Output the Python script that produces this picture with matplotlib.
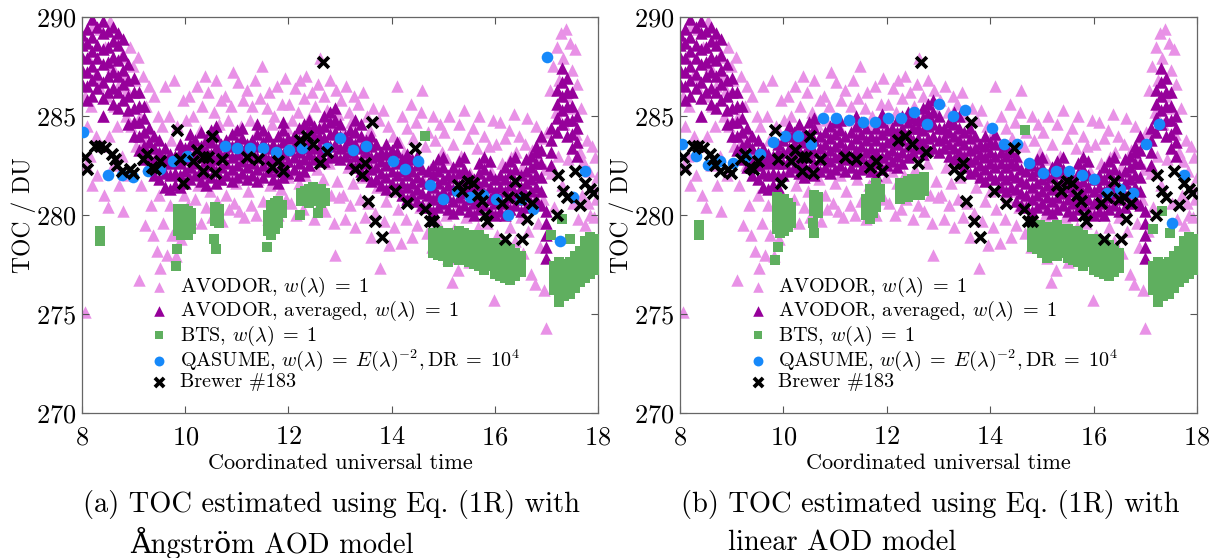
import matplotlib.pyplot as plt
import numpy as np

plt.rcParams['font.family'] = ['cmr10', 'DejaVu Serif']
plt.rcParams['mathtext.fontset'] = 'cm'
plt.rcParams['axes.formatter.use_mathtext'] = True

# ---------------- data ----------------
# AVODOR, w=1 (light pink triangles), same cloud in both panels
pink = [
    (8.02, 289.0), (8.05, 286.0), (8.05, 275.1), (8.08, 282.5), (8.10, 284.5), (8.12, 288.0), (8.15, 283.0), (8.18, 285.5),
    (8.20, 281.5), (8.22, 289.6), (8.25, 287.0), (8.28, 284.0), (8.30, 282.0), (8.33, 286.5), (8.35, 289.4), (8.38, 283.5),
    (8.40, 285.0), (8.43, 281.0), (8.45, 288.5), (8.48, 286.0), (8.50, 280.4), (8.52, 284.0), (8.55, 289.8), (8.58, 287.5),
    (8.60, 282.5), (8.62, 285.5), (8.65, 289.0), (8.68, 284.5), (8.70, 286.5), (8.72, 281.5), (8.75, 288.0), (8.78, 283.0),
    (8.80, 280.2), (8.82, 287.0), (8.85, 285.0), (8.88, 286.3), (8.90, 282.0), (8.93, 288.5), (8.95, 284.5), (8.98, 287.5),
    (9.02, 286.8), (9.05, 283.5), (9.08, 288.0), (9.10, 276.7), (9.12, 285.0), (9.15, 281.5), (9.18, 287.0), (9.20, 283.8),
    (9.22, 279.5), (9.25, 285.5), (9.28, 282.5), (9.30, 286.5), (9.33, 280.5), (9.35, 284.0), (9.38, 279.0), (9.40, 286.0),
    (9.42, 283.0), (9.45, 278.2), (9.48, 285.0), (9.50, 281.0), (9.52, 277.3), (9.55, 284.5), (9.58, 279.6), (9.60, 286.5),
    (9.62, 282.5), (9.65, 278.0), (9.68, 285.0), (9.70, 280.5), (9.72, 283.8), (9.75, 279.0), (9.78, 286.8), (9.80, 281.5),
    (9.82, 277.9), (9.85, 284.5), (9.88, 280.0), (9.90, 283.0), (9.92, 278.8), (9.95, 285.8), (9.97, 281.0), (9.99, 279.5),
    (10.02, 284.8), (10.05, 280.5), (10.08, 286.0), (10.10, 282.3), (10.12, 279.8), (10.15, 285.0), (10.18, 283.5), (10.20, 280.8),
    (10.22, 286.5), (10.25, 281.5), (10.28, 284.3), (10.30, 279.6), (10.33, 285.5), (10.35, 282.0), (10.38, 287.0), (10.40, 280.4),
    (10.42, 284.0), (10.45, 286.2), (10.48, 281.2), (10.50, 283.8), (10.52, 279.9), (10.55, 285.2), (10.58, 282.5), (10.60, 286.8),
    (10.62, 280.7), (10.65, 284.6), (10.68, 281.8), (10.70, 285.8), (10.72, 279.7), (10.75, 283.5), (10.78, 286.0), (10.80, 281.0),
    (10.83, 284.8), (10.85, 280.3), (10.88, 285.5), (10.90, 282.2), (10.92, 287.2), (10.95, 280.6), (10.97, 284.2), (10.99, 281.6),
    (11.02, 286.7), (11.05, 280.2), (11.08, 284.5), (11.10, 282.0), (11.12, 285.8), (11.15, 279.9), (11.18, 283.5), (11.20, 286.3),
    (11.22, 281.2), (11.25, 284.8), (11.28, 280.5), (11.30, 285.5), (11.33, 282.8), (11.35, 286.8), (11.38, 280.0), (11.40, 284.2),
    (11.42, 281.8), (11.45, 285.9), (11.48, 287.5), (11.50, 280.7), (11.52, 284.0), (11.55, 282.4), (11.58, 285.4), (11.60, 279.8),
    (11.62, 286.2), (11.65, 281.5), (11.68, 284.6), (11.70, 280.4), (11.72, 285.0), (11.75, 282.8), (11.78, 286.5), (11.80, 280.0),
    (11.82, 284.1), (11.85, 281.3), (11.88, 285.6), (11.90, 282.6), (11.93, 286.9), (11.95, 280.8), (11.97, 284.4), (11.99, 281.9),
    (12.02, 285.6), (12.05, 280.6), (12.08, 284.8), (12.10, 282.2), (12.12, 286.4), (12.15, 280.0), (12.18, 285.2), (12.20, 281.6),
    (12.22, 286.8), (12.25, 283.6), (12.28, 280.3), (12.30, 285.9), (12.33, 282.0), (12.35, 287.0), (12.38, 280.8), (12.40, 284.9),
    (12.42, 281.4), (12.45, 286.2), (12.48, 283.0), (12.50, 279.8), (12.52, 285.5), (12.55, 282.3), (12.58, 286.6), (12.60, 280.5),
    (12.62, 287.9), (12.65, 284.5), (12.68, 281.8), (12.70, 286.0), (12.72, 280.2), (12.75, 285.3), (12.78, 282.6), (12.80, 286.8),
    (12.83, 281.0), (12.85, 284.6), (12.88, 279.6), (12.90, 278.0), (12.92, 286.3), (12.95, 281.7), (12.97, 285.1), (12.99, 280.9),
    (13.02, 285.8), (13.05, 281.0), (13.08, 284.2), (13.10, 279.8), (13.12, 286.5), (13.15, 282.4), (13.18, 285.2), (13.20, 280.5),
    (13.22, 284.7), (13.25, 281.6), (13.28, 286.0), (13.30, 279.4), (13.33, 283.8), (13.35, 285.6), (13.38, 280.8), (13.40, 284.0),
    (13.42, 281.9), (13.45, 286.2), (13.48, 279.9), (13.50, 283.3), (13.52, 285.0), (13.55, 280.6), (13.58, 284.3), (13.60, 278.9),
    (13.62, 282.7), (13.65, 285.4), (13.68, 280.1), (13.70, 283.6), (13.72, 281.4), (13.75, 284.8), (13.78, 277.3), (13.80, 282.0),
    (13.83, 285.3), (13.85, 279.7), (13.88, 283.1), (13.90, 280.7), (13.93, 284.5), (13.95, 278.5), (13.97, 282.6), (13.99, 281.2),
    (14.02, 284.0), (14.05, 279.4), (14.08, 282.8), (14.10, 286.5), (14.12, 280.3), (14.15, 283.7), (14.18, 278.6), (14.20, 285.0),
    (14.22, 281.5), (14.25, 283.2), (14.28, 279.8), (14.30, 284.4), (14.32, 280.9), (14.35, 282.4), (14.38, 285.6), (14.40, 278.9),
    (14.42, 283.9), (14.45, 281.2), (14.48, 284.7), (14.50, 279.5), (14.52, 282.9), (14.55, 280.4), (14.58, 285.2), (14.60, 286.3),
    (14.62, 281.7), (14.65, 283.5), (14.68, 279.1), (14.70, 284.2), (14.72, 280.8), (14.75, 282.3), (14.78, 278.4), (14.80, 285.0),
    (14.83, 281.3), (14.85, 283.8), (14.88, 279.7), (14.90, 282.6), (14.93, 284.6), (14.95, 280.5), (14.97, 283.2), (14.99, 278.8),
    (15.02, 284.2), (15.05, 280.0), (15.08, 282.8), (15.10, 277.8), (15.12, 285.0), (15.15, 281.4), (15.18, 276.6), (15.20, 283.6),
    (15.22, 279.3), (15.25, 282.3), (15.28, 277.2), (15.30, 284.6), (15.32, 280.6), (15.35, 283.0), (15.38, 278.6), (15.40, 285.3),
    (15.42, 281.9), (15.45, 279.9), (15.48, 283.9), (15.50, 277.6), (15.52, 282.1), (15.55, 280.3), (15.58, 284.4), (15.60, 278.9),
    (15.62, 281.6), (15.65, 283.4), (15.68, 279.4), (15.70, 285.0), (15.72, 280.9), (15.75, 282.7), (15.78, 278.2), (15.80, 284.0),
    (15.83, 281.2), (15.85, 279.6), (15.88, 283.5), (15.90, 277.9), (15.93, 282.2), (15.95, 280.4), (15.97, 284.8), (15.99, 275.7),
    (16.02, 283.6), (16.05, 279.0), (16.08, 281.8), (16.10, 284.7), (16.12, 278.3), (16.15, 282.6), (16.18, 280.1), (16.20, 283.9),
    (16.22, 277.8), (16.25, 281.3), (16.28, 284.3), (16.30, 279.4), (16.32, 282.9), (16.35, 280.7), (16.38, 285.1), (16.40, 278.7),
    (16.42, 283.2), (16.45, 281.0), (16.48, 284.0), (16.50, 279.9), (16.52, 282.4), (16.55, 278.1), (16.58, 283.6), (16.60, 280.4),
    (16.62, 284.9), (16.65, 279.2), (16.68, 282.0), (16.70, 277.0), (16.72, 283.3), (16.75, 280.6), (16.78, 276.5), (16.80, 284.5),
    (16.83, 279.6), (16.85, 282.7), (16.88, 278.4), (16.90, 283.9), (16.93, 280.8), (16.95, 276.2), (16.97, 282.3), (16.99, 274.3),
    (17.02, 284.2), (17.05, 279.2), (17.08, 286.3), (17.10, 282.1), (17.12, 287.5), (17.15, 280.4), (17.18, 285.2), (17.20, 288.5),
    (17.22, 283.0), (17.25, 286.8), (17.28, 289.2), (17.30, 281.5), (17.32, 287.9), (17.35, 284.6), (17.38, 289.4), (17.40, 286.0),
    (17.42, 282.8), (17.45, 288.7), (17.48, 285.4), (17.50, 287.3), (17.52, 280.6), (17.55, 288.4), (17.58, 284.1), (17.60, 286.6),
    (17.62, 279.8), (17.65, 283.2), (17.68, 285.4), (17.70, 281.0), (17.72, 282.7), (17.75, 279.5), (17.78, 283.8), (17.80, 280.6),
    (17.83, 282.2), (17.85, 280.0), (17.88, 283.5), (17.90, 281.4), (17.93, 279.9), (17.95, 282.9), (17.97, 280.8), (17.99, 281.9),
]

# AVODOR averaged (dark purple triangles): time -> stacked values
purple_early = [
    (8.0, [286.6, 287.3, 288.0, 288.6, 289.1]), (8.1, [285.8, 286.5, 287.2, 287.9, 288.7, 289.4]),
    (8.2, [286.0, 286.8, 287.5, 288.3, 289.0, 289.9]), (8.3, [286.4, 287.1, 287.9, 288.6, 289.5]),
    (8.4, [285.0, 285.9, 286.7, 287.6, 288.4, 289.2, 289.8]), (8.5, [286.2, 287.0, 287.7, 288.5, 289.3]),
    (8.6, [285.6, 286.4, 287.2, 288.0, 288.8, 289.5]), (8.7, [285.4, 286.2, 287.0, 287.8, 288.6, 289.2]),
    (8.8, [285.8, 286.6, 287.3, 288.1, 288.9]), (8.9, [284.6, 285.3, 286.0, 286.8, 287.6]),
    (9.0, [284.0, 284.7, 285.4, 286.2, 286.9]), (9.1, [283.3, 284.0, 284.7, 285.5, 286.2]),
    (9.2, [282.8, 283.5, 284.2, 284.9, 285.5]), (9.3, [282.4, 283.0, 283.7, 284.4]),
    (9.4, [282.0, 282.7, 283.4, 284.0]), (9.5, [281.8, 282.5, 283.2, 283.8]),
    (9.6, [281.4, 282.1, 282.8, 283.4]), (9.7, [281.3, 282.0, 282.6, 283.1]),
    (9.8, [281.5, 282.1, 282.7, 283.0]), (9.9, [281.4, 282.0, 282.6, 283.2, 283.6]),
]
purple_mid_a = [
    (10.0, [281.6, 282.2, 282.8, 283.4]), (10.1, [281.8, 282.4, 283.0, 283.6, 284.1]),
    (10.2, [282.0, 282.6, 283.2, 283.8]), (10.3, [281.7, 282.3, 282.9, 283.5, 284.2]),
    (10.4, [281.5, 282.1, 282.7, 283.3, 283.8]), (10.5, [281.9, 282.5, 283.1, 283.7, 284.3]),
    (10.6, [281.6, 282.2, 282.8, 283.4, 284.0, 284.5]), (10.7, [281.8, 282.4, 283.0, 283.6]),
    (10.8, [282.0, 282.6, 283.2, 283.8]), (10.9, [281.7, 282.3, 282.9, 283.5, 284.1]),
    (11.0, [281.9, 282.5, 283.1, 283.7, 284.3]), (11.1, [282.1, 282.7, 283.3, 283.9, 284.4]),
    (11.2, [281.8, 282.4, 283.0, 283.6]), (11.3, [282.0, 282.6, 283.2, 283.8]),
    (11.4, [281.7, 282.3, 282.9, 283.5, 284.1, 284.6]), (11.5, [281.9, 282.5, 283.1, 283.7, 284.3]),
    (11.6, [282.2, 282.8, 283.4, 284.0]), (11.7, [281.8, 282.4, 283.0, 283.6]),
    (11.8, [281.6, 282.2, 282.8, 283.4, 284.0]), (11.9, [281.9, 282.5, 283.1, 283.7, 284.3, 284.7]),
    (12.0, [282.1, 282.7, 283.3, 283.9]), (12.1, [282.3, 282.9, 283.5, 284.0]),
    (12.2, [282.0, 282.6, 283.2, 283.8, 284.4]), (12.3, [282.2, 282.8, 283.4, 284.0, 284.6]),
    (12.4, [282.5, 283.1, 283.7, 284.3, 284.8]), (12.5, [282.8, 283.4, 284.0, 284.5]),
    (12.6, [283.0, 283.5, 284.0, 284.4]), (12.7, [282.7, 283.3, 283.9, 284.5, 285.0]),
    (12.8, [282.9, 283.5, 284.1, 284.7, 285.2]), (12.9, [283.0, 283.6, 284.2, 284.8, 285.4]),
    (13.0, [282.8, 283.4, 284.0, 284.6]), (13.1, [283.0, 283.5, 284.0]),
    (13.2, [282.6, 283.2, 283.8, 284.3]), (13.3, [282.4, 283.0, 283.6, 284.2, 284.8]),
    (13.4, [282.2, 282.8, 283.4, 284.0, 284.6]), (13.5, [282.0, 282.6, 283.2, 283.8]),
    (13.6, [281.7, 282.3, 282.9, 283.5, 284.0]), (13.7, [281.8, 282.4, 283.0, 283.6]),
    (13.8, [281.5, 282.1, 282.7, 283.2]), (13.9, [281.3, 281.9, 282.5, 283.1, 283.6]),
    (14.0, [281.6, 282.2, 282.8, 283.3]), (14.1, [281.4, 282.0, 282.6, 283.2, 283.7]),
    (14.2, [281.0, 281.6, 282.2, 282.8]), (14.3, [280.8, 281.4, 282.0, 282.6, 283.1]),
    (14.4, [281.0, 281.6, 282.2, 282.8]),
]
purple_mid_b = [
    (10.0, [282.0, 282.6, 283.2, 283.8]), (10.1, [282.2, 282.8, 283.4, 284.0, 284.5]),
    (10.2, [282.4, 283.0, 283.6, 284.2]), (10.3, [282.1, 282.7, 283.3, 283.9, 284.6]),
    (10.4, [281.9, 282.5, 283.1, 283.7, 284.2]), (10.5, [282.3, 282.9, 283.5, 284.1, 284.7]),
    (10.6, [282.0, 282.6, 283.2, 283.8, 284.4, 284.9]), (10.7, [282.2, 282.8, 283.4, 284.0]),
    (10.8, [282.4, 283.0, 283.6, 284.2]), (10.9, [282.1, 282.7, 283.3, 283.9, 284.5]),
    (11.0, [282.3, 282.9, 283.5, 284.1, 284.7]), (11.1, [282.5, 283.1, 283.7, 284.3, 284.8]),
    (11.2, [282.2, 282.8, 283.4, 284.0]), (11.3, [282.4, 283.0, 283.6, 284.2]),
    (11.4, [282.1, 282.7, 283.3, 283.9, 284.5, 285.0]), (11.5, [282.3, 282.9, 283.5, 284.1, 284.7]),
    (11.6, [282.6, 283.2, 283.8, 284.4]), (11.7, [282.2, 282.8, 283.4, 284.0]),
    (11.8, [282.0, 282.6, 283.2, 283.8, 284.4]), (11.9, [282.3, 282.9, 283.5, 284.1, 284.7, 285.1]),
    (12.0, [282.5, 283.1, 283.7, 284.3]), (12.1, [282.7, 283.3, 283.9, 284.4]),
    (12.2, [282.4, 283.0, 283.6, 284.2, 284.8]), (12.3, [282.6, 283.2, 283.8, 284.4, 285.0]),
    (12.4, [282.9, 283.5, 284.1, 284.7, 285.2]), (12.5, [283.2, 283.8, 284.4, 284.9]),
    (12.6, [283.4, 283.9, 284.4, 284.8]), (12.7, [283.1, 283.7, 284.3, 284.9, 285.4]),
    (12.8, [283.3, 283.9, 284.5, 285.1, 285.6]), (12.9, [283.4, 284.0, 284.6, 285.2, 285.8]),
    (13.0, [283.2, 283.8, 284.4, 285.0]), (13.1, [283.4, 283.9, 284.4]),
    (13.2, [283.0, 283.6, 284.2, 284.7]), (13.3, [282.8, 283.4, 284.0, 284.6, 285.2]),
    (13.4, [282.6, 283.2, 283.8, 284.4, 285.0]), (13.5, [282.4, 283.0, 283.6, 284.2]),
    (13.6, [282.1, 282.7, 283.3, 283.9, 284.4]), (13.7, [282.2, 282.8, 283.4, 284.0]),
    (13.8, [281.9, 282.5, 283.1, 283.6]), (13.9, [281.7, 282.3, 282.9, 283.5, 284.0]),
    (14.0, [282.0, 282.6, 283.2, 283.7]), (14.1, [281.8, 282.4, 283.0, 283.6, 284.1]),
    (14.2, [281.4, 282.0, 282.6, 283.2]), (14.3, [281.2, 281.8, 282.4, 283.0, 283.5]),
    (14.4, [281.4, 282.0, 282.6, 283.2]),
]
purple_late = [
    (14.5, [280.7, 281.3, 281.9, 282.5, 283.0]), (14.6, [280.5, 281.1, 281.7, 282.3]),
    (14.7, [280.4, 281.0, 281.6, 282.2]), (14.8, [280.2, 280.8, 281.4, 282.0, 282.5]),
    (14.9, [280.4, 281.0, 281.6, 282.2, 282.8]), (15.0, [280.6, 281.2, 281.8, 282.4, 282.9]),
    (15.1, [280.3, 280.9, 281.5, 282.0]), (15.2, [280.1, 280.7, 281.3, 281.9, 282.4]),
    (15.3, [280.3, 280.9, 281.5, 282.1, 282.7]), (15.4, [280.5, 281.1, 281.7, 282.3, 282.9]),
    (15.5, [280.2, 280.8, 281.4, 282.0]), (15.6, [280.0, 280.6, 281.2, 281.8]),
    (15.7, [280.3, 280.9, 281.5, 282.1, 282.6]), (15.8, [280.5, 281.1, 281.7, 282.3, 282.9]),
    (15.9, [280.2, 280.8, 281.4, 282.0, 282.7]), (16.0, [280.0, 280.6, 281.2, 281.8]),
    (16.1, [280.2, 280.8, 281.4, 282.0]), (16.2, [280.0, 280.6, 281.2, 281.8, 282.4]),
    (16.3, [280.3, 280.9, 281.5, 282.1, 282.7]), (16.4, [280.5, 281.1, 281.7, 282.3, 282.9]),
    (16.5, [280.2, 280.8, 281.4, 282.0]), (16.6, [280.4, 281.0, 281.6, 282.2, 282.8]),
    (16.7, [280.6, 281.2, 281.8, 282.4, 283.0]), (16.8, [280.8, 281.4, 282.0, 282.6, 283.2, 283.5]),
    (16.9, [280.5, 281.2, 281.9, 282.6, 283.3, 284.0]), (17.0, [277.8, 278.4, 279.0, 279.6, 280.2]),
    (17.1, [282.5, 283.2, 283.8, 284.4]), (17.2, [284.2, 284.9, 285.6, 286.3]),
    (17.3, [284.6, 285.3, 286.0, 286.7, 287.4]), (17.4, [284.0, 284.8, 285.5, 286.2, 286.9]),
    (17.5, [283.4, 284.1, 284.8, 285.5, 286.2]), (17.6, [283.0, 283.7, 284.4, 285.0]),
]

# BTS (green squares): time -> stacked values
green_a = [
    (8.35, [278.7, 279.2]), (9.82, [277.4]), (9.84, [278.3]), (10.55, [278.8]), (10.6, [278.3]),
    (11.58, [278.4]), (12.22, [280.0]), (12.57, [280.1]), (14.65, [284.0]),
    (17.1, [279.0]), (17.3, [279.8]), (17.45, [278.8]),
    (9.86, [279.2, 279.6, 280.0, 280.3]), (9.92, [279.0, 279.4, 279.8, 280.2]),
    (9.98, [279.1, 279.5, 279.9, 280.3]), (10.05, [279.0, 279.4, 279.8, 280.2]), (10.12, [279.3, 279.7, 280.1]),
    (10.58, [279.7, 280.1, 280.4]), (10.65, [279.6, 280.0, 280.3]),
    (11.6, [279.2, 279.6, 280.0]), (11.67, [279.0, 279.4, 279.8, 280.2, 280.5]),
    (11.74, [279.3, 279.7, 280.1, 280.6]), (11.8, [279.6, 280.0, 280.4, 280.7]), (11.87, [280.1, 280.5]),
    (12.25, [280.7, 281.1]), (12.32, [280.8, 281.2]), (12.4, [280.6, 281.0, 281.3]), (12.48, [280.7, 281.1, 281.4]),
    (12.56, [280.8, 281.2]), (12.64, [280.6, 281.0, 281.3]), (12.72, [280.7, 281.1]),
    (14.8, [278.1, 278.5, 278.9, 279.1]), (14.9, [278.0, 278.4, 278.8, 279.2]),
    (15.0, [277.9, 278.3, 278.7, 279.1]), (15.1, [277.6, 278.0, 278.4, 278.8, 279.1]),
    (15.2, [277.8, 278.2, 278.6, 279.0]), (15.3, [277.7, 278.1, 278.5, 278.9, 279.2]),
    (15.4, [277.9, 278.3, 278.7, 279.1]), (15.5, [277.6, 278.0, 278.4, 278.8, 279.0]),
    (15.6, [277.5, 277.9, 278.3, 278.7]), (15.7, [277.4, 277.8, 278.2, 278.6, 279.0]),
    (15.8, [277.2, 277.6, 278.0, 278.4, 278.8]), (15.9, [277.4, 277.8, 278.2, 278.6]),
    (16.0, [277.0, 277.4, 277.8, 278.2, 278.6]), (16.1, [276.9, 277.3, 277.7, 278.1, 278.5]),
    (16.2, [276.8, 277.2, 277.6, 278.0, 278.4]), (16.3, [276.7, 277.1, 277.5, 277.9, 278.3]),
    (16.4, [276.9, 277.3, 277.7, 278.1]), (16.5, [277.1, 277.5, 277.9]),
]
green_b = [
    (8.37, [279.0, 279.5]), (9.84, [277.7]), (9.9, [278.4]), (10.57, [279.6]), (10.6, [279.1]),
    (14.67, [284.3]), (14.96, [279.5]), (17.15, [279.3]), (17.33, [280.2]), (17.48, [279.1]),
    (9.87, [279.3, 279.7, 280.1, 280.5, 280.9]), (9.94, [279.1, 279.5, 279.9, 280.3, 280.7]),
    (10.01, [279.2, 279.6, 280.0, 280.4, 280.8]), (10.08, [279.4, 279.8, 280.2, 280.6]), (10.15, [279.6, 280.0, 280.4]),
    (10.6, [280.2, 280.6, 281.0]), (10.67, [280.1, 280.5, 280.9]),
    (11.6, [280.0, 280.4, 280.8]), (11.67, [279.8, 280.2, 280.6, 281.0, 281.3]),
    (11.74, [280.1, 280.5, 280.9, 281.3]), (11.8, [280.4, 280.8, 281.2, 281.6]), (11.87, [280.9, 281.3]),
    (12.25, [280.8, 281.2, 281.6]), (12.32, [281.0, 281.4]), (12.4, [280.9, 281.3, 281.7]), (12.48, [281.0, 281.4, 281.8]),
    (12.56, [281.1, 281.5]), (12.64, [281.0, 281.4, 281.8]), (12.72, [281.2, 281.6, 281.9]),
    (14.8, [278.4, 278.8, 279.2, 279.5]), (14.9, [278.3, 278.7, 279.1, 279.5]),
    (15.0, [278.1, 278.5, 278.9, 279.3]), (15.1, [277.8, 278.2, 278.6, 279.0, 279.4]),
    (15.2, [278.0, 278.4, 278.8, 279.2]), (15.3, [277.9, 278.3, 278.7, 279.1, 279.5]),
    (15.4, [278.1, 278.5, 278.9, 279.3]), (15.5, [277.8, 278.2, 278.6, 279.0, 279.3]),
    (15.6, [277.7, 278.1, 278.5, 278.9]), (15.7, [277.6, 278.0, 278.4, 278.8, 279.2]),
    (15.8, [277.4, 277.8, 278.2, 278.6, 279.0]), (15.9, [277.6, 278.0, 278.4, 278.8]),
    (16.0, [277.2, 277.6, 278.0, 278.4, 278.8]), (16.1, [277.1, 277.5, 277.9, 278.3, 278.7]),
    (16.2, [277.0, 277.4, 277.8, 278.2, 278.6]), (16.3, [276.9, 277.3, 277.7, 278.1, 278.5]),
    (16.4, [277.1, 277.5, 277.9, 278.3]), (16.5, [277.3, 277.7, 278.1]),
]
green_evening = [
    (17.15, [276.2, 276.6, 277.0, 277.4]), (17.25, [275.6, 276.0, 276.4, 276.8, 277.2, 277.6]),
    (17.35, [275.9, 276.3, 276.7, 277.1, 277.5]), (17.45, [276.0, 276.4, 276.8, 277.2, 277.6]),
    (17.55, [276.3, 276.7, 277.1, 277.5, 277.9]), (17.65, [276.6, 277.0, 277.4, 277.8, 278.2]),
    (17.75, [276.8, 277.2, 277.6, 278.0, 278.4, 278.7]), (17.85, [277.0, 277.4, 277.8, 278.2, 278.6, 278.9]),
    (17.95, [277.2, 277.6, 278.0, 278.4, 278.8]),
]

# QASUME (blue circles)
qasume_a_t = [8.02, 8.5, 8.77, 8.99, 9.28, 9.51, 9.76, 10.03, 10.77, 11.0, 11.26, 11.51, 11.76, 12.01, 12.26,
              12.75, 13.0, 13.25, 13.5, 14.03, 14.26, 14.51, 14.75, 15.0, 15.26, 15.52, 15.77, 16.02, 16.26,
              16.5, 16.74, 17.01, 17.26, 17.51, 17.75]
qasume_a_v = [284.2, 282.0, 282.0, 281.9, 282.2, 282.3, 282.7, 283.0, 283.5, 283.4, 283.4, 283.4, 283.2, 283.3, 283.4,
              283.4, 283.9, 283.3, 283.5, 282.7, 282.3, 282.7, 281.5, 280.8, 281.2, 280.9, 281.0, 280.8, 280.0,
              280.8, 280.3, 288.0, 278.7, 280.9, 282.2]
qasume_b_t = [8.04, 8.31, 8.54, 8.77, 9.03, 9.28, 9.55, 9.8, 10.03, 10.28, 10.53, 10.77, 11.02, 11.27, 11.54,
              11.77, 12.02, 12.27, 12.53, 12.78, 13.01, 13.28, 13.51, 14.04, 14.27, 14.52, 14.75, 15.02, 15.27,
              15.52, 15.78, 16.0, 16.26, 16.51, 16.76, 17.01, 17.26, 17.52, 17.75]
qasume_b_v = [283.6, 283.0, 282.5, 282.7, 282.6, 282.9, 283.1, 283.7, 284.0, 284.0, 283.6, 284.9, 284.9, 284.8, 284.7,
              284.7, 284.9, 284.9, 285.2, 284.6, 285.6, 285.0, 285.3, 284.4, 283.6, 283.6, 282.6, 282.1, 282.2,
              282.2, 282.0, 281.8, 281.1, 281.3, 281.1, 283.6, 284.6, 279.6, 282.0]

# Brewer #183 (black crosses), same in both panels
brewer_t = [8.06, 8.1, 8.25, 8.35, 8.45, 8.58, 8.64, 8.68, 8.78, 8.93, 8.99, 9.18, 9.26, 9.36, 9.41, 9.51,
            9.84, 9.9, 9.96, 10.15, 10.23, 10.35, 10.35, 10.44, 10.52, 10.58, 10.71, 11.2, 11.41, 11.68,
            11.8, 11.9, 12.22, 12.36, 12.48, 12.61, 12.67, 12.75, 13.29, 13.42, 13.48, 13.54, 13.62, 13.68,
            13.81, 14.07, 14.3, 14.45, 14.65, 14.74, 14.8, 15.29, 15.36, 15.48, 15.58, 15.67, 15.75, 15.81,
            15.85, 16.14, 16.2, 16.26, 16.39, 16.49, 16.52, 16.59, 16.63, 16.72, 17.2, 17.23, 17.33, 17.4,
            17.56, 17.65, 17.75, 17.85, 17.9]
brewer_v = [282.9, 282.3, 283.5, 283.5, 283.4, 283.1, 282.8, 282.5, 282.2, 282.3, 282.1, 282.8, 283.1, 282.4, 282.3, 282.7,
            284.3, 282.8, 281.6, 282.7, 283.3, 282.9, 282.2, 282.9, 284.0, 282.1, 282.8, 282.9, 282.8, 282.4,
            282.7, 282.2, 283.8, 284.0, 283.6, 282.6, 287.7, 283.2, 282.3, 282.0, 282.6, 280.7, 284.7, 279.7,
            278.9, 281.2, 280.6, 283.4, 280.3, 279.7, 279.7, 281.5, 281.2, 281.7, 281.6, 281.0, 280.7, 280.0,
            279.7, 280.6, 278.8, 280.9, 281.7, 280.8, 278.8, 280.9, 279.8, 280.6, 280.0, 282.0, 281.2, 280.9,
            282.2, 280.5, 281.6, 281.3, 281.1]

labels = [r'AVODOR, $w(\lambda)\;=\;1$',
          r'AVODOR, averaged, $w(\lambda)\;=\;1$',
          r'BTS, $w(\lambda)\;=\;1$',
          r'QASUME, $w(\lambda)\;=\;E(\lambda)^{-2}, \mathrm{DR}\;=\;10^4$',
          'Brewer #183']
captions = [('(a) TOC estimated using Eq. (1R) with', 'Ångström AOD model'),
            ('(b) TOC estimated using Eq. (1R) with', 'linear AOD model')]

c_pink = '#E891E6'
c_purple = '#96009A'
c_green = '#5FAF5F'
c_blue = '#1689FA'


def flatten(cols):
    t = [c[0] for c in cols for _ in c[1]]
    v = [y for c in cols for y in c[1]]
    return np.array(t), np.array(v)


def draw(ax, purple, green, q_t, q_v):
    pk = np.array(pink)
    pt, pv = flatten(purple)
    gt, gv = flatten(green)
    h1 = ax.scatter(pk[:, 0], pk[:, 1], s=80, marker='^', color=c_pink, linewidths=0, zorder=1)
    h2 = ax.scatter(pt, pv, s=80, marker='^', color=c_purple, linewidths=0, zorder=2)
    h3 = ax.scatter(gt, gv, s=42, marker='s', color=c_green, linewidths=0, zorder=3)
    h4 = ax.scatter(q_t, q_v, s=70, marker='o', color=c_blue, linewidths=0, zorder=4)
    h5 = ax.scatter(brewer_t, brewer_v, s=60, marker='x', color='black', linewidths=2.7, zorder=5)
    ax.set_xlim(8, 18)
    ax.set_ylim(270, 290)
    ax.set_xticks([8, 10, 12, 14, 16, 18])
    ax.set_yticks([270, 275, 280, 285, 290])
    ax.tick_params(direction='in', top=True, right=True, length=5, width=0.8,
                   labelsize=19, color='#555555')
    ax.tick_params(axis='x', pad=9)
    ax.tick_params(axis='y', pad=4)
    for sp in ax.spines.values():
        sp.set_color('#666666')
        sp.set_linewidth(0.9)
    ax.set_xlabel('Coordinated universal time', fontsize=16, labelpad=3)
    ax.set_ylabel('TOC / DU', fontsize=17, labelpad=0)
    ax.legend([h1, h2, h3, h4, h5], labels, loc='upper left', bbox_to_anchor=(0.115, 0.368),
              frameon=False, fontsize=14.5, handlelength=1.0, handletextpad=0.5, labelspacing=0.0,
              borderaxespad=0, markerscale=0.85, scatterpoints=1)


fig = plt.figure(figsize=(12.18, 5.58), dpi=100)
ax1 = fig.add_axes([0.0673, 0.26, 0.4236, 0.7097])
ax2 = fig.add_axes([0.5583, 0.26, 0.4245, 0.7097])

draw(ax1, purple_early + purple_mid_a + purple_late, green_a + green_evening, qasume_a_t, qasume_a_v)
draw(ax2, purple_early + purple_mid_b + purple_late, green_b + green_evening, qasume_b_t, qasume_b_v)

for x0, (line1, line2) in zip([0.068, 0.559], captions):
    fig.text(x0, 0.095, line1, fontsize=20.5, va='center')
    fig.text(x0 + 0.039, 0.027, line2, fontsize=20.5, va='center')

fig.savefig('out.png', dpi=100)
